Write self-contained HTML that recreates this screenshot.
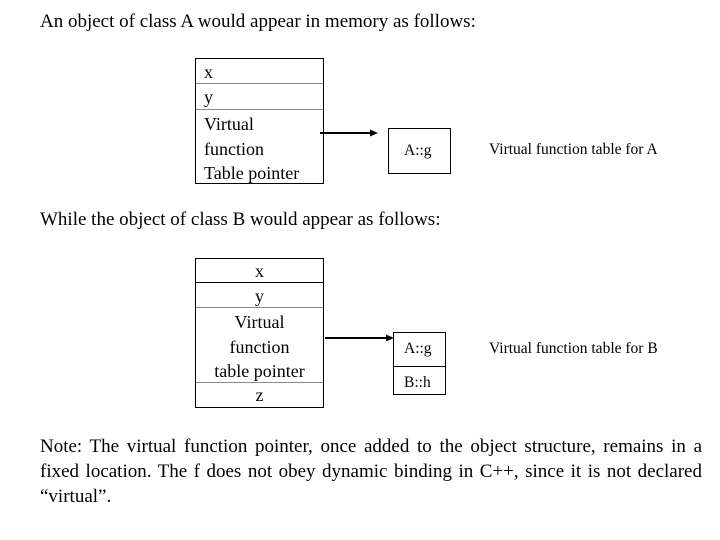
<!DOCTYPE html>
<html><head><style>
body{margin:0;width:720px;height:540px;background:#fff;position:relative;font-family:"Liberation Serif",serif;color:#000;overflow:hidden}
.t{position:absolute;white-space:nowrap}
.h{font-size:19px}
.box{position:absolute;border:1.3px solid #000;box-sizing:border-box}
.line{position:absolute;height:1px;background:#888}
.s{font-size:18px}
.r{font-size:15.5px}
</style></head><body>
<div class="t h" style="left:40px;top:11px">An object of class A would appear in memory as follows:</div>
<div class="box" style="left:195px;top:58px;width:129px;height:126px"></div>
<div class="line" style="left:196px;top:83px;width:127px"></div>
<div class="line" style="left:196px;top:109px;width:127px"></div>
<div class="t s" style="left:204px;top:62px">x</div>
<div class="t s" style="left:204px;top:87px">y</div>
<div class="t s" style="left:204px;top:112px;line-height:24.5px">Virtual<br>function<br>Table pointer</div>
<svg style="position:absolute;left:0;top:0" width="720" height="540">
<line x1="320" y1="133" x2="372" y2="133" stroke="#000" stroke-width="2"/>
<polygon points="378,133 370,129.5 370,136.5" fill="#000"/>
<line x1="325" y1="338" x2="388" y2="338" stroke="#000" stroke-width="2"/>
<polygon points="394,338 386,334.5 386,341.5" fill="#000"/>
</svg>
<div class="box" style="left:388px;top:128px;width:63px;height:46px"></div>
<div class="t r" style="left:404px;top:142px">A::g</div>
<div class="t r" style="left:489px;top:141px">Virtual function table for A</div>
<div class="t h" style="left:40px;top:209px">While the object of class B would appear as follows:</div>
<div class="box" style="left:195px;top:258px;width:129px;height:150px"></div>
<div class="line" style="left:196px;top:282px;width:127px;background:#000"></div>
<div class="line" style="left:196px;top:307px;width:127px"></div>
<div class="line" style="left:196px;top:382px;width:127px"></div>
<div class="t s" style="left:195px;width:129px;text-align:center;top:261px">x</div>
<div class="t s" style="left:195px;width:129px;text-align:center;top:286px">y</div>
<div class="t s" style="left:195px;width:129px;text-align:center;top:310px;line-height:24.5px">Virtual<br>function<br>table pointer</div>
<div class="t s" style="left:195px;width:129px;text-align:center;top:385px">z</div>
<div class="box" style="left:393px;top:332px;width:53px;height:63px"></div>
<div class="line" style="left:394px;top:366px;width:51px;background:#000"></div>
<div class="t r" style="left:404px;top:340px">A::g</div>
<div class="t r" style="left:404px;top:374px">B::h</div>
<div class="t r" style="left:489px;top:340px">Virtual function table for B</div>
<div class="t h" style="left:40px;top:434px;line-height:25px;width:662px;white-space:normal;text-align:justify">Note: The virtual function pointer, once added to the object structure, remains in a fixed location. The f does not obey dynamic binding in C++, since it is not declared “virtual”.</div>
</body></html>
